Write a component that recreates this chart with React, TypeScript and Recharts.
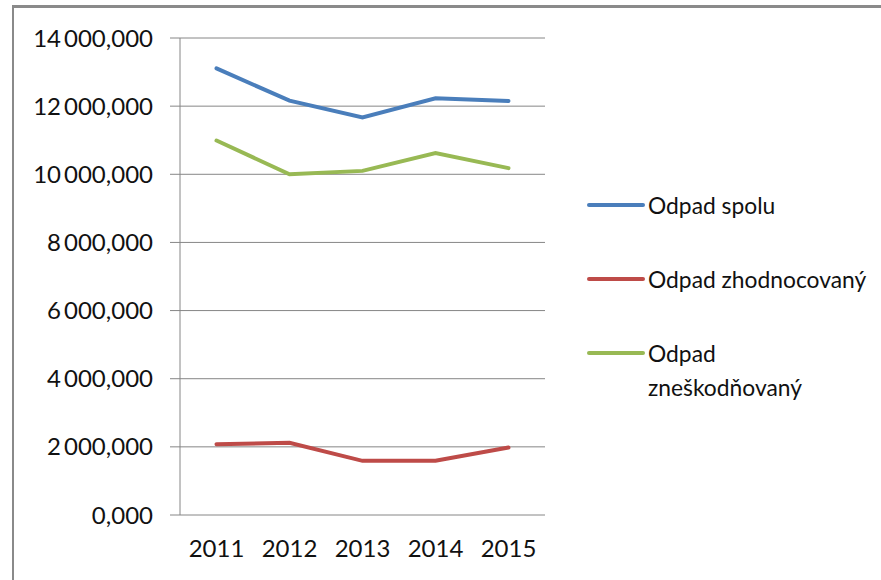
import React from 'react';
import { LineChart, Line, XAxis, YAxis, CartesianGrid, Legend } from 'recharts';

const years = ['2011', '2012', '2013', '2014', '2015'];
const odpadSpolu = [13110, 12160, 11670, 12230, 12150];
const odpadZhodnocovany = [2080, 2120, 1590, 1590, 1980];
const odpadZneskodnovany = [10990, 10000, 10100, 10620, 10180];
const yTicks = [0, 2000, 4000, 6000, 8000, 10000, 12000, 14000];
const boundaryTicks = [0, 1, 2, 3, 4, 5];

const seriesNames = ['Odpad spolu', 'Odpad zhodnocovaný', 'Odpad zneškodňovaný'];
const seriesColors = ['#4A7EBB', '#BE4B48', '#98B954'];

const data = years.map((year, i) => ({
  year,
  spolu: odpadSpolu[i],
  zhodnocovany: odpadZhodnocovany[i],
  zneskodnovany: odpadZneskodnovany[i],
}));

const FONT = 'Lato, "Liberation Sans", sans-serif';
const GRAY = '#868686';

const fmt = (v: number) =>
  Math.round(v).toString().replace(/\B(?=(\d{3})+(?!\d))/g, '\u2009') + ',000';

const LegendContent = (props: any) => {
  const payload = props.payload || [];
  return (
    <div style={{ fontFamily: FONT, fontSize: 22.8, color: '#111' }}>
      {payload.map((p: any, i: number) => (
        <div key={i} style={{ display: 'flex', alignItems: 'flex-start', marginBottom: 40 }}>
          <svg width={58} height={34} style={{ flex: '0 0 auto' }}>
            <line x1={2} y1={17} x2={56} y2={17} stroke={p.color} strokeWidth={4} strokeLinecap="round" />
          </svg>
          <div style={{ width: 222, lineHeight: '34px', marginLeft: 3 }}>{p.value}</div>
        </div>
      ))}
    </div>
  );
};

export default function App() {
  return (
    <div style={{ position: 'absolute', left: 0, top: 0, width: 881, height: 580, background: '#fff', overflow: 'hidden' }}>
      <div style={{ position: 'absolute', left: 12, top: 5, right: 0, height: 3, background: '#8a8a8a' }} />
      <div style={{ position: 'absolute', left: 12, top: 5, bottom: 0, width: 2, background: '#8a8a8a' }} />
      <LineChart
        width={881}
        height={580}
        data={data}
        margin={{ top: 38, right: 336, bottom: 0, left: 0 }}
        style={{ position: 'absolute', left: 0, top: 0 }}
      >
        <CartesianGrid horizontal vertical={false} stroke={GRAY} strokeWidth={1} />
        <XAxis
          xAxisId="marks"
          type="number"
          domain={[0, 5]}
          allowDataOverflow
          ticks={boundaryTicks}
          tick={false}
          tickSize={10}
          height={0}
          axisLine={{ stroke: GRAY }}
          tickLine={{ stroke: GRAY }}
        />
        <XAxis
          xAxisId="labels"
          dataKey="year"
          scale="band"
          height={65}
          axisLine={false}
          tickLine={false}
          tickSize={10}
          tickMargin={15}
          tick={{ fill: '#111', fontSize: 24, fontFamily: FONT }}
        />
        <YAxis
          width={180}
          domain={[0, 14000]}
          ticks={yTicks}
          tickFormatter={fmt}
          tickSize={10}
          tickMargin={17}
          axisLine={{ stroke: GRAY }}
          tickLine={{ stroke: GRAY }}
          tick={{ fill: '#111', fontSize: 24, fontFamily: FONT }}
          interval={0}
        />
        <Legend
          layout="vertical"
          align="center"
          verticalAlign="middle"
          content={<LegendContent />}
          wrapperStyle={{ left: 587, top: 188, width: 290 }}
        />
        <Line xAxisId="labels" dataKey="spolu" name={seriesNames[0]} stroke={seriesColors[0]} strokeWidth={4} dot={false} isAnimationActive={false} strokeLinecap="round" />
        <Line xAxisId="labels" dataKey="zhodnocovany" name={seriesNames[1]} stroke={seriesColors[1]} strokeWidth={4} dot={false} isAnimationActive={false} strokeLinecap="round" />
        <Line xAxisId="labels" dataKey="zneskodnovany" name={seriesNames[2]} stroke={seriesColors[2]} strokeWidth={4} dot={false} isAnimationActive={false} strokeLinecap="round" />
      </LineChart>
    </div>
  );
}
